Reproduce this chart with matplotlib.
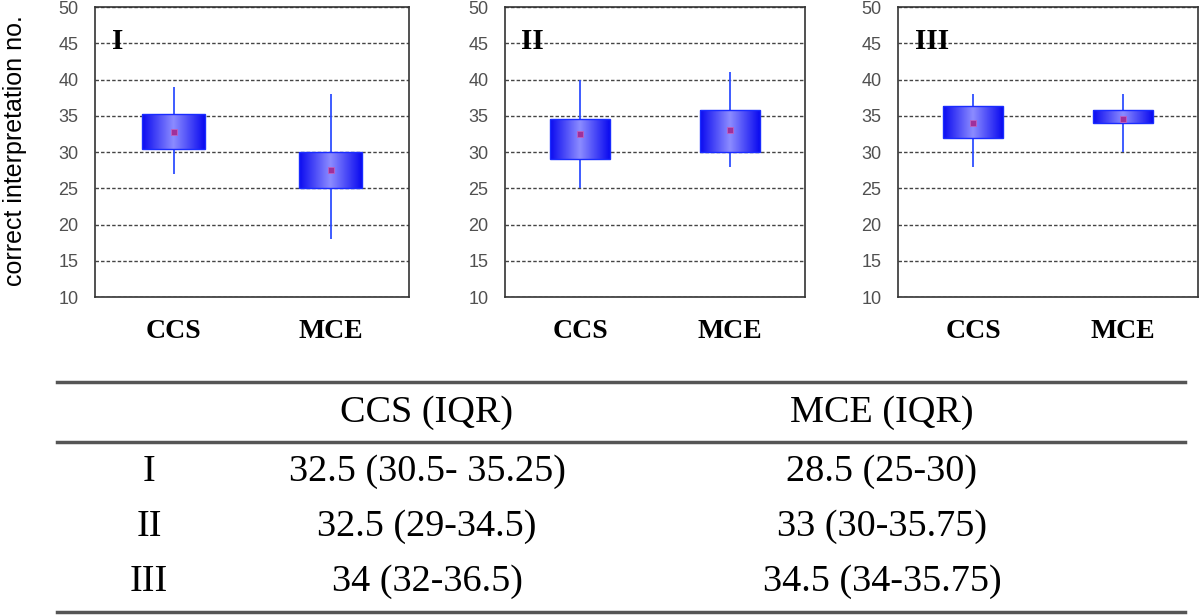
import numpy as np
import matplotlib.pyplot as plt
from matplotlib.colors import LinearSegmentedColormap

# box plot data (per panel: CCS, MCE)
panels = ["I", "II", "III"]
groups = ["CCS", "MCE"]
whisker_low = [[27, 18], [25, 28], [28, 30]]
whisker_high = [[39, 38], [40, 41], [38, 38]]
q1 = [[30.4, 25], [29, 30], [32, 34]]
q3 = [[35.2, 30], [34.5, 35.75], [36.4, 35.75]]
centre = [[32.8, 27.5], [32.5, 33], [34, 34.5]]

# table below the plots
table_header = ["CCS (IQR)", "MCE (IQR)"]
table_rows = ["I", "II", "III"]
table_ccs = ["32.5 (30.5- 35.25)", "32.5 (29-34.5)", "34 (32-36.5)"]
table_mce = ["28.5 (25-30)", "33 (30-35.75)", "34.5 (34-35.75)"]

W, H = 1200, 616
fig = plt.figure(figsize=(12, 6.16), dpi=100)

cmap = LinearSegmentedColormap.from_list("boxgrad", ["#0a0af0", "#8c8cff", "#0a0af0"])
grad = np.linspace(0, 1, 256).reshape(1, -1)

axes_px = [(95, 314), (505, 300), (898, 300)]  # left, width in pixels
top_px, bottom_px = 7, 297

for i, (left, width) in enumerate(axes_px):
    ax = fig.add_axes([left / W, 1 - bottom_px / H, width / W, (bottom_px - top_px) / H])
    pos = [1, 2]
    ax.vlines(pos, whisker_low[i], whisker_high[i], color="#2f4fff", lw=1.3, zorder=2)
    for j, p in enumerate(pos):
        bar = ax.bar(p, q3[i][j] - q1[i][j], bottom=q1[i][j], width=0.4,
                     facecolor="none", edgecolor="#1a2cff", lw=1.0, zorder=4)[0]
        im = ax.imshow(grad, extent=[p - 0.2, p + 0.2, q1[i][j], q3[i][j]],
                       aspect="auto", cmap=cmap, zorder=3)
        im.set_clip_path(bar)
    ax.plot(pos, centre[i], ls="none", marker="s", ms=4, mfc="#a0309a",
            mec="#c060c0", mew=0.6, zorder=5)
    ax.set_xlim(0.5, 2.5)
    ax.set_ylim(10, 50)
    ax.set_yticks(range(10, 51, 5))
    ax.set_xticks(pos)
    ax.set_xticklabels(groups, family="Liberation Serif", fontweight="bold",
                       fontsize=20, color="black")
    ax.tick_params(axis="x", length=0, pad=16)
    ax.tick_params(axis="y", length=0, pad=12, labelsize=13, labelcolor="#505050")
    for lab in ax.get_yticklabels():
        lab.set_family("Liberation Sans")
    ax.yaxis.grid(True, linestyle=(0, (2.5, 1.5)), color="#444444", lw=1.0)
    ax.set_axisbelow(True)
    for s in ax.spines.values():
        s.set_color("#333333")
        s.set_linewidth(1.2)
    ax.text(0.055, 0.88, panels[i], transform=ax.transAxes, ha="left", va="center",
            family="Liberation Serif", fontweight="bold", fontsize=21)

fig.text(15 / W, 1 - 151 / H, "correct interpretation no.", rotation=90,
         ha="center", va="center", fontsize=18, family="Liberation Sans")

# table
x0, x1 = 57 / W, 1185 / W
for y, lw in [(382, 2.5), (442, 2.5), (612, 2.5)]:
    fig.add_artist(plt.Line2D([x0, x1], [1 - y / H, 1 - y / H], color="#555555", lw=lw))

col_x = [149, 427, 882]
tfont = dict(family="Liberation Serif", fontsize=27.5, ha="center", va="center")
fig.text(col_x[1] / W, 1 - 413 / H, table_header[0], **tfont)
fig.text(col_x[2] / W, 1 - 413 / H, table_header[1], **tfont)
row_y = [472, 527, 582]
for k in range(3):
    yy = 1 - row_y[k] / H
    fig.text(col_x[0] / W, yy, table_rows[k], **tfont)
    fig.text(col_x[1] / W, yy, table_ccs[k], **tfont)
    fig.text(col_x[2] / W, yy, table_mce[k], **tfont)

fig.savefig("out.png", dpi=100)
